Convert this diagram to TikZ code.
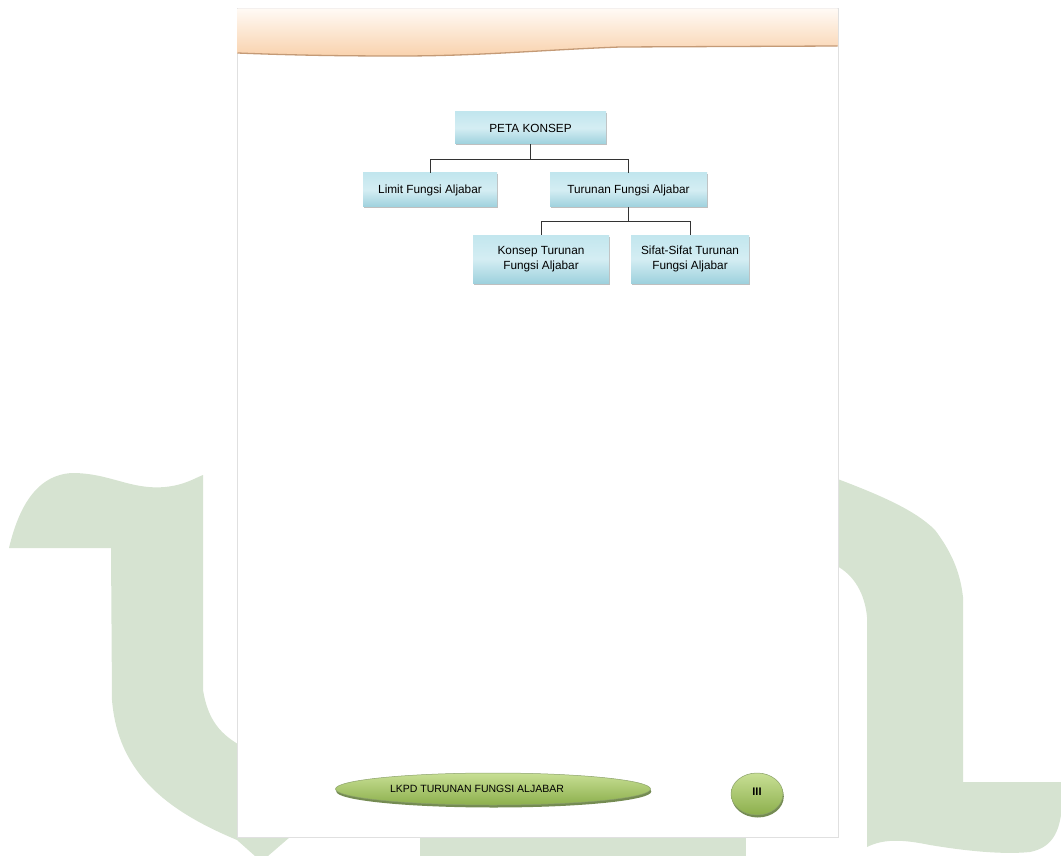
\documentclass[tikz,border=0pt]{standalone}
\usepackage{fontspec}
\setmainfont{Liberation Sans}
\usetikzlibrary{shadows,shapes.geometric}
\definecolor{bggreen}{HTML}{D6E3D1}
\definecolor{boxTop}{HTML}{C2E6EE}
\definecolor{boxBot}{HTML}{9ED1DD}
\definecolor{lineC}{HTML}{333333}
\definecolor{grTop}{HTML}{C8DF95}
\definecolor{grBot}{HTML}{8CAF4C}
\definecolor{grDark}{HTML}{5B7A2B}
\definecolor{hdrTop}{HTML}{FFFAF5}
\definecolor{hdrBot}{HTML}{F9D2AD}
\definecolor{hdrLine}{HTML}{C49A76}
\tikzset{
  cbox/.style={rectangle, top color=boxTop, bottom color=boxBot, middle color=boxTop!70!white,
    drop shadow={shadow xshift=1.2pt, shadow yshift=-1.5pt, fill=black!45, opacity=.55},
    font=\fontsize{11.8}{14.5}\selectfont, align=center, inner sep=2pt},
  conn/.style={draw=lineC, line width=1pt},
  gell/.style={ellipse, top color=grTop, bottom color=grBot, draw=grDark!70, line width=0.5pt,
    drop shadow={shadow xshift=0.8pt, shadow yshift=-2.5pt, fill=grDark!90!black, opacity=.8},
    inner sep=0pt},
  bgshape/.style={fill=bggreen}
}
\begin{document}
\begin{tikzpicture}[x=1pt,y=-1pt]
\useasboundingbox (0,0) rectangle (1061,856);
% background green shapes
\path[bgshape] (9,548) .. controls (18,510) and (35,475) .. (72,473)
  .. controls (110,473) and (130,490) .. (165,487)
  .. controls (185,485) and (195,478) .. (203,475)
  -- (203,690) .. controls (208,720) and (220,735) .. (245,748)
  -- (245,837) -- (290,837) -- (268,856) -- (255,856) -- (237,840)
  .. controls (170,812) and (118,775) .. (112,700)
  -- (111,548) -- cycle;
\path[bgshape] (835,478) .. controls (880,495) and (915,510) .. (935,530)
  .. controls (950,550) and (960,570) .. (963,597)
  -- (963,782) -- (1061,782) -- (1061,815)
  .. controls (1058,835) and (1050,848) .. (1030,852)
  .. controls (1000,855) and (960,850) .. (930,845)
  .. controls (905,840) and (885,838) .. (867,847)
  -- (867,617) .. controls (865,595) and (855,575) .. (835,565) -- cycle;
\path[bgshape] (420,837) rectangle (746,856);
% page
\path[fill=white, draw=black!12, line width=0.8pt] (237,8) rectangle (838,837);
% header
\shade[top color=hdrTop, bottom color=hdrBot] (237.5,8.5) -- (837.5,8.5) -- (837.5,46)
  -- (620,47) .. controls (540,50) and (480,56) .. (400,56)
  .. controls (350,56) and (300,55.5) .. (237.5,53) -- cycle;
\draw[hdrLine, line width=1.3pt] (237.5,53) .. controls (300,55.5) and (350,56) .. (400,56)
  .. controls (480,56) and (540,50) .. (620,47) -- (837.5,46);
% concept map
\node[cbox, minimum width=151pt, minimum height=32pt] (peta) at (530.5,128) {PETA KONSEP};
\node[cbox, minimum width=134pt, minimum height=34pt] (limit) at (430,190) {Limit Fungsi Aljabar};
\node[cbox, minimum width=157pt, minimum height=34pt] (turunan) at (628.5,190) {Turunan Fungsi Aljabar};
\node[cbox, minimum width=136pt, minimum height=48pt] (konsep) at (541,259) {Konsep Turunan\\Fungsi Aljabar};
\node[cbox, minimum width=118pt, minimum height=48pt] (sifat) at (690,259) {Sifat-Sifat Turunan\\Fungsi Aljabar};
\draw[conn] (peta.south) -- ++(0,15) -| (limit.north);
\draw[conn] (peta.south) -- ++(0,15) -| (turunan.north);
\draw[conn] (turunan.south) -- ++(0,14) -| (konsep.north);
\draw[conn] (turunan.south) -- ++(0,14) -| (sifat.north);
% footer
\node[gell, minimum width=315pt, minimum height=32pt, font=\fontsize{10.5}{12}\selectfont] (lkpd) at (493,789)
  {LKPD TURUNAN FUNGSI ALJABAR\hspace*{32pt}};
\node[gell, minimum width=52pt, minimum height=42pt, font=\fontsize{11}{12}\selectfont\bfseries] (hal) at (757,794)
  {\raisebox{5pt}{III}};
\end{tikzpicture}
\end{document}
